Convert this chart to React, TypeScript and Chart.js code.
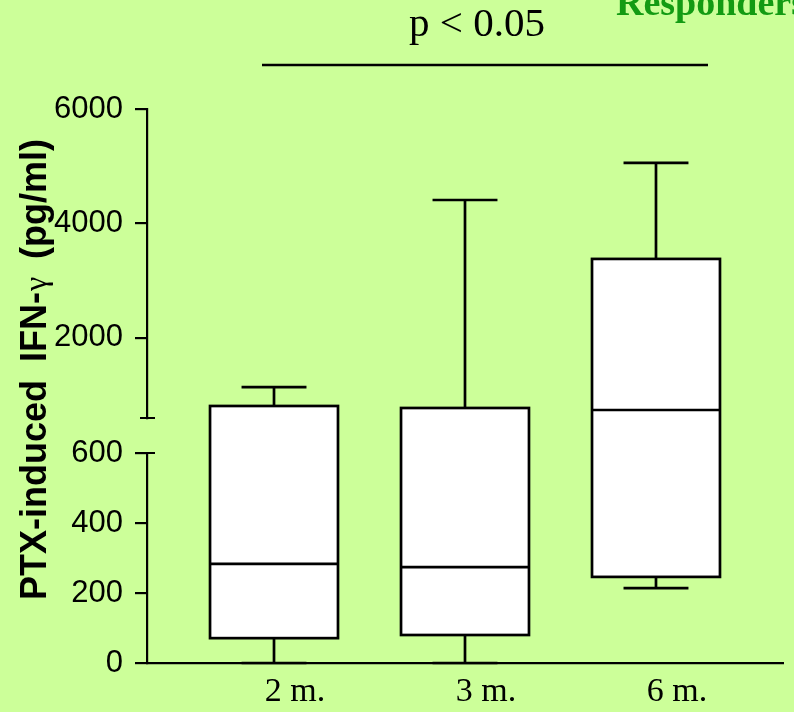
import React, { useEffect, useRef } from 'react';
import { Chart, registerables } from 'chart.js';

Chart.register(...registerables);

// ---- data ----
const categories = ['2 m.', '3 m.', '6 m.'];
const mins = [0, 0, 214];
const q1s = [71, 80, 246];
const medians = [283, 274, 740];
const q3s = [810, 775, 3380];
const maxs = [1140, 4410, 5060];
const lowerTicks = [0, 200, 400, 600];
const upperTicks = [2000, 4000, 6000];
const BREAK_VALUE = 600;
const UPPER_MAX = 6000;
const titleParts = ['PTX-induced', 'IFN-', 'γ', '(pg/ml)'];
const pLabel = 'p < 0.05';
const cornerLabel = 'Responders';

// ---- style ----
const BG = '#ccff99';
const BOX_WIDTH = 0.67;
const CAP_WIDTH = 0.34;

const annotPlugin = {
  id: 'boxAndAnnot',
  afterDraw(chart: any) {
    const ctx = chart.ctx as CanvasRenderingContext2D;
    const x = chart.scales.x;
    const lo = chart.scales.yLower;
    const up = chart.scales.yUpper;
    const yPix = (v: number) => (v > BREAK_VALUE ? up.getPixelForValue(v) : lo.getPixelForValue(v));
    ctx.save();
    ctx.strokeStyle = '#000';
    ctx.lineWidth = 2.7;
    ctx.lineCap = 'butt';
    categories.forEach((_, i) => {
      const cx = x.getPixelForValue(i + 1);
      const hw = x.getPixelForValue(i + 1 + BOX_WIDTH / 2) - cx;
      const cw = x.getPixelForValue(i + 1 + CAP_WIDTH / 2) - cx;
      const yMin = yPix(mins[i]);
      const yQ1 = yPix(q1s[i]);
      const yMed = yPix(medians[i]);
      const yQ3 = yPix(q3s[i]);
      const yMax = yPix(maxs[i]);
      ctx.beginPath();
      ctx.moveTo(cx, yQ3);
      ctx.lineTo(cx, yMax);
      ctx.moveTo(cx - cw, yMax);
      ctx.lineTo(cx + cw, yMax);
      ctx.moveTo(cx, yQ1);
      ctx.lineTo(cx, yMin);
      ctx.moveTo(cx - cw, yMin);
      ctx.lineTo(cx + cw, yMin);
      ctx.stroke();
      ctx.fillStyle = '#fff';
      ctx.fillRect(cx - hw, yQ3, 2 * hw, yQ1 - yQ3);
      ctx.strokeRect(cx - hw, yQ3, 2 * hw, yQ1 - yQ3);
      ctx.beginPath();
      ctx.moveTo(cx - hw, yMed);
      ctx.lineTo(cx + hw, yMed);
      ctx.stroke();
    });

    // axis break caps
    ctx.lineWidth = 2.2;
    const ax = lo.right;
    ctx.beginPath();
    ctx.moveTo(ax - 7, up.bottom);
    ctx.lineTo(ax + 8, up.bottom);
    ctx.moveTo(ax, lo.top);
    ctx.lineTo(ax + 8, lo.top);
    ctx.stroke();

    // y title (rotated)
    ctx.fillStyle = '#000';
    ctx.textBaseline = 'alphabetic';
    ctx.textAlign = 'left';
    const drawRot = (text: string, font: string, baseX: number, startY: number, sx = 1) => {
      ctx.save();
      ctx.translate(baseX, startY);
      ctx.rotate(-Math.PI / 2);
      ctx.scale(sx, 1);
      ctx.font = font;
      ctx.fillText(text, 0, 0);
      ctx.restore();
    };
    drawRot(titleParts[0], 'bold 36px "Liberation Sans", Arial, sans-serif', 46, 600);
    drawRot(titleParts[1], 'bold 36px "Liberation Sans", Arial, sans-serif', 46, 362);
    drawRot(titleParts[2], '32px "Liberation Serif", "Times New Roman", serif', 46, 291);
    drawRot(titleParts[3], 'bold 36px "Liberation Sans", Arial, sans-serif', 46, 259);

    // significance annotation
    ctx.font = '41px "Liberation Serif", "Times New Roman", serif';
    ctx.textAlign = 'center';
    ctx.fillText(pLabel, 477, 36);
    ctx.lineWidth = 2.5;
    ctx.beginPath();
    ctx.moveTo(262, 65);
    ctx.lineTo(708, 65);
    ctx.stroke();

    // corner label
    ctx.font = 'bold 38px "Liberation Serif", "Times New Roman", serif';
    ctx.textAlign = 'left';
    ctx.fillStyle = '#139b13';
    ctx.fillText(cornerLabel, 616, 15);
    ctx.restore();
  },
};

const yTickFont = { family: '"Liberation Sans", Arial, sans-serif', size: 31 };
const yTickOpts = {
  color: '#000',
  padding: 12,
  font: yTickFont,
  autoSkip: false,
  callback: (v: any) => String(v),
};

export default function App() {
  const ref = useRef<HTMLCanvasElement>(null);
  useEffect(() => {
    document.body.style.margin = '0';
    document.body.style.background = BG;
    const canvas = ref.current!;
    const chart = new Chart(canvas, {
      type: 'scatter',
      data: { datasets: [] },
      plugins: [annotPlugin],
      options: {
        animation: false,
        responsive: false,
        devicePixelRatio: 1,
        layout: { padding: { top: 109, left: 0, right: 11, bottom: 0 } },
        plugins: { legend: { display: false }, tooltip: { enabled: false } },
        scales: {
          x: {
            type: 'linear',
            position: 'bottom',
            min: 0.335,
            max: 3.665,
            afterBuildTicks: (s: any) => {
              s.ticks = categories.map((_, i) => ({ value: i + 1 }));
            },
            afterFit: (s: any) => {
              s.height = 49;
            },
            grid: { display: false, drawTicks: false },
            border: { display: true, color: '#000', width: 2.2 },
            ticks: {
              autoSkip: false,
              maxRotation: 0,
              padding: 9,
              labelOffset: 21,
              color: '#000',
              font: { family: '"Liberation Serif", "Times New Roman", serif', size: 34 },
              callback: (v: any) => categories[Math.round(Number(v)) - 1] ?? '',
            },
          },
          yLower: {
            type: 'linear',
            axis: 'y',
            position: 'left',
            stack: 'yStack',
            stackWeight: 210,
            min: 0,
            max: BREAK_VALUE,
            afterBuildTicks: (s: any) => {
              s.ticks = lowerTicks.map((v) => ({ value: v }));
            },
            afterFit: (s: any) => {
              s.width = 147;
            },
            grid: { display: true, drawOnChartArea: false, drawTicks: true, tickLength: 12, color: '#000', lineWidth: 2.2 },
            border: { display: true, color: '#000', width: 2.2 },
            ticks: yTickOpts,
          },
          yGap: {
            type: 'linear',
            axis: 'y',
            position: 'left',
            stack: 'yStack',
            stackWeight: 35,
            min: 0,
            max: 1,
            afterBuildTicks: (s: any) => {
              s.ticks = [];
            },
            afterFit: (s: any) => {
              s.width = 147;
            },
            grid: { display: false },
            border: { display: false },
            ticks: { display: false },
          },
          yUpper: {
            type: 'linear',
            axis: 'y',
            position: 'left',
            stack: 'yStack',
            stackWeight: 309,
            min: BREAK_VALUE,
            max: UPPER_MAX,
            afterBuildTicks: (s: any) => {
              s.ticks = upperTicks.map((v) => ({ value: v }));
            },
            afterFit: (s: any) => {
              s.width = 147;
            },
            grid: { display: true, drawOnChartArea: false, drawTicks: true, tickLength: 12, color: '#000', lineWidth: 2.2 },
            border: { display: true, color: '#000', width: 2.2 },
            ticks: yTickOpts,
          },
        },
      } as any,
    });
    return () => chart.destroy();
  }, []);
  return (
    <canvas
      ref={ref}
      width={794}
      height={712}
      style={{ display: 'block', width: 794, height: 712, background: BG }}
    />
  );
}
